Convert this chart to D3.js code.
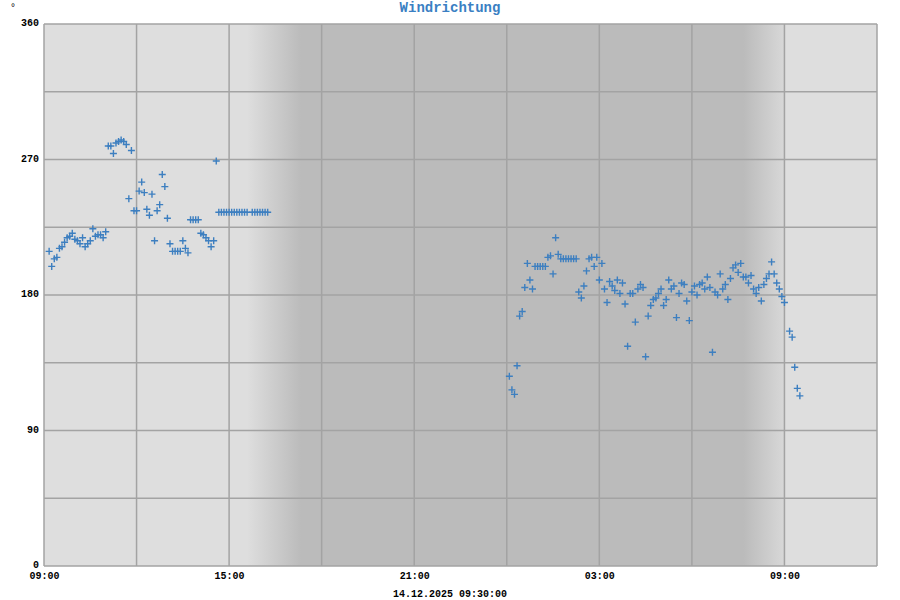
<!DOCTYPE html>
<html>
<head>
<meta charset="utf-8">
<script src="https://cdn.jsdelivr.net/npm/d3@7/dist/d3.min.js"></script>
<style>
  html, body { margin: 0; padding: 0; background: #ffffff; }
  svg { display: block; }
</style>
</head>
<body>
<svg id="chart" width="900" height="600"></svg>
<script>
// ---------------- data ----------------
const chartTitle = "Windrichtung";
const unitLabel = "°";
const stampLabel = "14.12.2025 09:30:00";

const xDomain = ["2025-12-13T09:00", "2025-12-14T12:00"];
const yTicks = [0, 90, 180, 270, 360];
const yGrid = [0, 45, 90, 135, 180, 225, 270, 315, 360];
const xTickLabels = ["2025-12-13T09:00", "2025-12-13T15:00", "2025-12-13T21:00", "2025-12-14T03:00", "2025-12-14T09:00"];
const xGrid = ["2025-12-13T09:00", "2025-12-13T12:00", "2025-12-13T15:00", "2025-12-13T18:00", "2025-12-13T21:00",
               "2025-12-14T00:00", "2025-12-14T03:00", "2025-12-14T06:00", "2025-12-14T09:00", "2025-12-14T12:00"];

// twilight (dusk start, dusk end / dawn start, dawn end)
const duskTimes = ["2025-12-13T15:35", "2025-12-13T17:20"];
const dawnTimes = ["2025-12-14T07:40", "2025-12-14T09:00"];

// first day (13.12.)
const day1Times = [
 "09:10","09:15","09:20","09:25","09:30","09:35","09:40","09:45","09:50","09:55",
 "10:00","10:05","10:10","10:15","10:20","10:25","10:30","10:35","10:40","10:45","10:50","10:55",
 "11:00","11:05","11:10","11:15","11:20","11:25","11:30","11:35","11:40","11:45","11:50","11:55",
 "12:00","12:05","12:10","12:15","12:20","12:25","12:30","12:35","12:40","12:45","12:50","12:55",
 "13:00","13:05","13:10","13:15","13:20","13:25","13:30","13:35","13:40","13:45","13:50","13:55",
 "14:00","14:05","14:10","14:15","14:20","14:25","14:30","14:35","14:40","14:45","14:50","14:55",
 "15:00","15:05","15:10","15:15","15:20","15:25","15:30","15:35","15:45","15:50","15:55",
 "16:00","16:05","16:10","16:15"
];
const day1Values = [
 209,199,204,205,211,212,215,218,219,221,
 217,216,214,218,212,214,216,224,219,220,220,218,
 222,279,279,274,281,282,283,282,280,244,276,236,
 236,249,255,248,237,233,247,216,236,240,260,252,
 231,214,209,209,209,209,216,211,208,230,230,230,
 230,221,220,218,216,212,216,269,235,235,235,235,
 235,235,235,235,235,235,235,235,235,235,235,
 235,235,235,235
];

// second day (14.12.)
const day2Times = [
 "00:05","00:10","00:15","00:20","00:25","00:30","00:35","00:40","00:45","00:50","00:55",
 "01:00","01:05","01:10","01:15","01:20","01:25","01:30","01:35","01:40","01:45","01:50","01:55",
 "02:00","02:05","02:10","02:15","02:20","02:25","02:30","02:35","02:40","02:45","02:50","02:55",
 "03:00","03:05","03:10","03:15","03:20","03:25","03:30","03:35","03:40","03:45","03:50","03:55",
 "04:00","04:05","04:10","04:15","04:20","04:25","04:30","04:35","04:40","04:45","04:50","04:55",
 "05:00","05:05","05:10","05:15","05:20","05:25","05:30","05:35","05:40","05:45","05:50","05:55",
 "06:00","06:05","06:10","06:15","06:20","06:25","06:30","06:35","06:40","06:45","06:50","06:55",
 "07:00","07:05","07:10","07:15","07:20","07:25","07:30","07:35","07:40","07:45","07:50","07:55",
 "08:00","08:05","08:10","08:15","08:20","08:25","08:30","08:35","08:40","08:45","08:50","08:55",
 "09:00","09:10","09:15","09:20","09:25","09:30"
];
const day2Values = [
 126,117,114,133,166,169,185,201,190,184,199,
 199,199,199,199,205,206,194,218,207,204,204,
 204,204,204,204,204,182,178,186,196,204,205,
 199,205,190,201,184,175,189,186,183,190,181,188,
 174,146,181,181,162,184,187,185,139,166,173,177,
 178,181,184,173,177,190,184,186,165,181,188,187,
 176,163,182,186,180,187,188,184,192,185,142,182,
 180,194,184,187,177,191,198,200,195,201,192,192,
 188,193,184,181,185,176,187,191,194,202,194,188,
 184,179,175,156,152,132,118,113
];

// ---------------- drawing ----------------
const M = { left: 44, right: 877, top: 24, bottom: 566 };
const svg = d3.select("#chart");
const parse = d3.timeParse("%Y-%m-%dT%H:%M");

const x = d3.scaleTime().domain(xDomain.map(parse)).range([M.left, M.right]);
const y = d3.scaleLinear().domain([0, 360]).range([M.bottom, M.top]);

const plotW = M.right - M.left, plotH = M.bottom - M.top;

// background
svg.append("rect").attr("x", M.left).attr("y", M.top).attr("width", plotW).attr("height", plotH)
  .attr("fill", "#dedede");

// night shading with twilight gradients
const xs = [parse(duskTimes[0]), parse(duskTimes[1]), parse(dawnTimes[0]), parse(dawnTimes[1])].map(x);
const defs = svg.append("defs");
const grad = defs.append("linearGradient").attr("id", "night")
  .attr("gradientUnits", "userSpaceOnUse")
  .attr("x1", xs[0]).attr("x2", xs[3]).attr("y1", 0).attr("y2", 0);
const span = xs[3] - xs[0];
[[xs[0], "#dedede"], [xs[1], "#bbbbbb"], [xs[2], "#bbbbbb"], [xs[3], "#d8d8d8"]].forEach(([px, c]) => {
  grad.append("stop").attr("offset", (px - xs[0]) / span).attr("stop-color", c);
});
svg.append("rect").attr("x", xs[0]).attr("y", M.top).attr("width", span).attr("height", plotH)
  .attr("fill", "url(#night)");

// grid
const gridColor = "#a3a3a3";
svg.append("g").selectAll("line").data(xGrid.map(parse)).join("line")
  .attr("x1", d => x(d)).attr("x2", d => x(d)).attr("y1", M.top).attr("y2", M.bottom)
  .attr("stroke", gridColor).attr("stroke-width", 1.5);
svg.append("g").selectAll("line").data(yGrid).join("line")
  .attr("x1", M.left).attr("x2", M.right).attr("y1", d => y(d)).attr("y2", d => y(d))
  .attr("stroke", gridColor).attr("stroke-width", 1.5);

// axes (labels only)
const font = "'Liberation Mono', 'Courier New', monospace";
const yAxis = svg.append("g").attr("transform", `translate(${M.left - 5},0)`)
  .call(d3.axisLeft(y).tickValues(yTicks).tickSize(0).tickPadding(0).tickFormat(d3.format("d")));
yAxis.select(".domain").remove();
yAxis.selectAll("text").attr("font-family", font).attr("font-weight", "bold").attr("font-size", 10)
  .attr("fill", "#000").attr("dy", "0.15em");

const xAxis = svg.append("g").attr("transform", `translate(0,${M.bottom})`)
  .call(d3.axisBottom(x).tickValues(xTickLabels.map(parse)).tickSize(0).tickPadding(6)
    .tickFormat(d3.timeFormat("%H:%M")));
xAxis.select(".domain").remove();
xAxis.selectAll("text").attr("font-family", font).attr("font-weight", "bold").attr("font-size", 10)
  .attr("fill", "#000");

// title, unit, stamp
svg.append("text").attr("x", 450).attr("y", 12).attr("text-anchor", "middle")
  .attr("font-family", font).attr("font-weight", "bold").attr("font-size", 14)
  .attr("fill", "#3a7fc3").text(chartTitle);
svg.append("text").attr("x", 13).attr("y", 11).attr("text-anchor", "middle")
  .attr("font-family", font).attr("font-size", 10).attr("fill", "#000").text(unitLabel);
svg.append("text").attr("x", 450).attr("y", 597).attr("text-anchor", "middle")
  .attr("font-family", font).attr("font-weight", "bold").attr("font-size", 10)
  .attr("fill", "#000").text(stampLabel);

// points
const pts = day1Times.map((t, i) => ({ t: parse("2025-12-13T" + t), v: day1Values[i] }))
  .concat(day2Times.map((t, i) => ({ t: parse("2025-12-14T" + t), v: day2Values[i] })));
const s = 3.5;
svg.append("g").selectAll("path").data(pts).join("path")
  .attr("d", d => {
    const px = x(d.t), py = y(d.v);
    return `M${px - s},${py}H${px + s}M${px},${py - s}V${py + s}`;
  })
  .attr("stroke", "#3d7fc0").attr("stroke-width", 1.4).attr("fill", "none");
</script>
</body>
</html>
